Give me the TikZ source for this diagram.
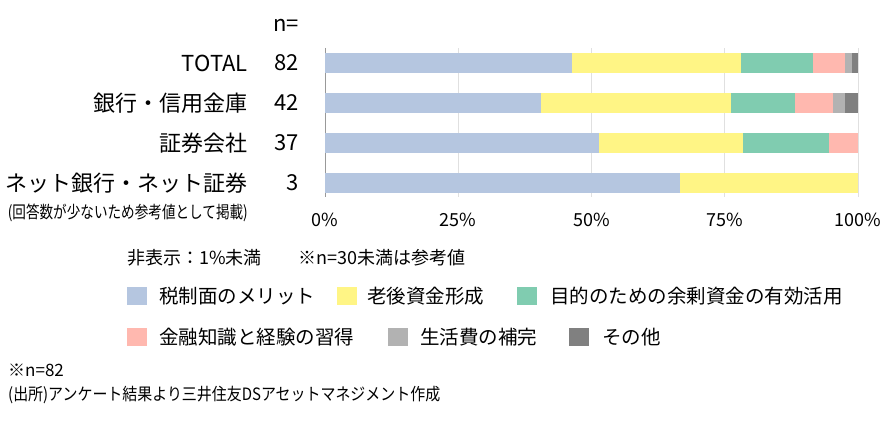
\documentclass[tikz,border=0pt]{standalone}
\usepackage{graphicx}
\usepackage{fontspec}
\setmainfont{Noto Sans CJK JP}
\definecolor{cZei}{HTML}{B5C6E0}
\definecolor{cRogo}{HTML}{FFF585}
\definecolor{cYoyu}{HTML}{80CCB0}
\definecolor{cChishiki}{HTML}{FFB8AF}
\definecolor{cSeikatsu}{HTML}{B2B2B2}
\definecolor{cSonota}{HTML}{808080}

\begin{document}
\begin{tikzpicture}[x=1pt,y=-1pt,
   rowlab/.style={anchor=east,inner sep=0pt,font=\fontsize{22}{22}\selectfont},
   ticklab/.style={inner sep=0pt,font=\fontsize{18}{18}\selectfont},
   legtext/.style={anchor=west,inner sep=0pt,font=\fontsize{19.5}{19.5}\selectfont},
   legbox/.style={inner sep=0pt,minimum width=20pt,minimum height=18pt}]
   \useasboundingbox (0,0) rectangle (895,433);
   \def\px#1{325+5.33*(#1)}
   % grid and axis
   \foreach \p in {25,50,75,100} {
    \draw[black!12,line width=0.8pt] ({\px{\p}},48) -- ({\px{\p}},197);
   }
   \draw[black!40,line width=0.8pt] (325,48) -- (325,197);
   % bars: centre y / n / segments (from/to/colour)
   \foreach \r/\n/\segs in {
     63/82/{0/38/cZei,38/64/cRogo,64/75/cYoyu,75/80/cChishiki,80/81/cSeikatsu,81/82/cSonota},
     103/42/{0/17/cZei,17/32/cRogo,32/37/cYoyu,37/40/cChishiki,40/41/cSeikatsu,41/42/cSonota},
     143/37/{0/19/cZei,19/29/cRogo,29/35/cYoyu,35/37/cChishiki},
     183/3/{0/2/cZei,2/3/cRogo}} {
    \foreach \a/\b/\c in \segs {
     \fill[\c] ({\px{100*\a/\n}},\r-10) rectangle ({\px{100*\b/\n}},\r+10);
    }
   }
   % row labels
   \node[rowlab] (nEq) at (299,25) {n=};
   \node[rowlab] (lTotal) at (248,63) {TOTAL};
   \node[rowlab] (nTotal) at (299,63) {82};
   \node[rowlab] (lGinko) at (248,103) {銀行・信用金庫};
   \node[rowlab] (nGinko) at (299,103) {42};
   \node[rowlab] (lShoken) at (248,143) {証券会社};
   \node[rowlab] (nShoken) at (299,143) {37};
   \node[rowlab] (lNet) at (248,183) {ネット銀行・ネット証券};
   \node[rowlab] (nNet) at (299,183) {3};
   \node[rowlab,font=\fontsize{17}{17}\selectfont] (lNetNote) at (248,213)
     {\scalebox{0.8}[1]{(回答数が少ないため参考値として掲載)}};
   % ticks
   \foreach \p in {0,25,50,75,100} {
    \node[ticklab] (t\p) at ({\px{\p}},220) {\p\%};
   }
   % notes and legend
   \node[legtext,font=\fontsize{18}{18}\selectfont] (hihyoji) at (127,258) {非表示：1\%未満};
   \node[legtext,font=\fontsize{18}{18}\selectfont] (sanko) at (298,258) {※n=30未満は参考値};
   \node[legbox,fill=cZei] (bZei) at (137,296) {};
   \node[legtext] (tZei) at (159,296) {税制面のメリット};
   \node[legbox,fill=cRogo] (bRogo) at (347,296) {};
   \node[legtext] (tRogo) at (367,296) {老後資金形成};
   \node[legbox,fill=cYoyu] (bYoyu) at (527,296) {};
   \node[legtext] (tYoyu) at (550,296) {目的のための余剰資金の有効活用};
   \node[legbox,fill=cChishiki] (bChishiki) at (137,337) {};
   \node[legtext] (tChishiki) at (159,337) {金融知識と経験の習得};
   \node[legbox,fill=cSeikatsu] (bSeikatsu) at (398,337) {};
   \node[legtext] (tSeikatsu) at (420,337) {生活費の補完};
   \node[legbox,fill=cSonota] (bSonota) at (579,337) {};
   \node[legtext] (tSonota) at (602,337) {その他};
   % source
   \node[legtext,font=\fontsize{17}{17}\selectfont] (nAll) at (8,370) {※n=82};
   \node[legtext,font=\fontsize{17}{17}\selectfont] (src) at (8,395)
     {\scalebox{0.88}[1]{(出所)アンケート結果より三井住友DSアセットマネジメント作成}};
  \end{tikzpicture}
\end{document}
